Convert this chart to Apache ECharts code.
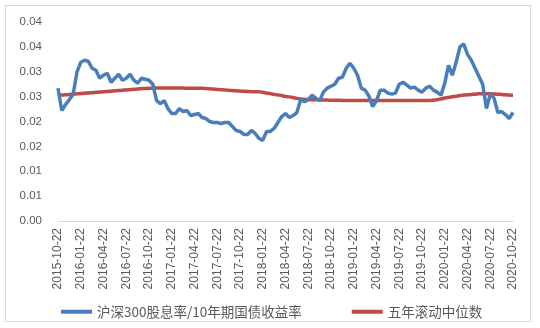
<!DOCTYPE html>
<html>
<head>
<meta charset="utf-8">
<script src="https://cdn.jsdelivr.net/npm/echarts@6/dist/echarts.min.js"></script>
<style>html,body{margin:0;padding:0;background:#fff;}#c{width:540px;height:328px;}</style>
</head>
<body>
<div id="c"></div>
<script>
var dates = [
'2015-10-22','2015-11-07','2015-11-22','2015-12-07','2015-12-22',
'2016-01-07','2016-01-22','2016-02-07','2016-02-22','2016-03-07','2016-03-22','2016-04-07','2016-04-22','2016-05-07','2016-05-22','2016-06-07','2016-06-22',
'2016-07-07','2016-07-22','2016-08-07','2016-08-22','2016-09-07','2016-09-22','2016-10-07','2016-10-22','2016-11-07','2016-11-22','2016-12-07','2016-12-22',
'2017-01-07','2017-01-22','2017-02-07','2017-02-22','2017-03-07','2017-03-22','2017-04-07','2017-04-22','2017-05-07','2017-05-22','2017-06-07','2017-06-22',
'2017-07-07','2017-07-22','2017-08-07','2017-08-22','2017-09-07','2017-09-22','2017-10-07','2017-10-22','2017-11-07','2017-11-22','2017-12-07','2017-12-22',
'2018-01-07','2018-01-22','2018-02-07','2018-02-22','2018-03-07','2018-03-22','2018-04-07','2018-04-22','2018-05-07','2018-05-22','2018-06-07','2018-06-22',
'2018-07-07','2018-07-22','2018-08-07','2018-08-22','2018-09-07','2018-09-22','2018-10-07','2018-10-22','2018-11-07','2018-11-22','2018-12-07','2018-12-22',
'2019-01-07','2019-01-22','2019-02-07','2019-02-22','2019-03-07','2019-03-22','2019-04-07','2019-04-22','2019-05-07','2019-05-22','2019-06-07','2019-06-22',
'2019-07-07','2019-07-22','2019-08-07','2019-08-22','2019-09-07','2019-09-22','2019-10-07','2019-10-22','2019-11-07','2019-11-22','2019-12-07','2019-12-22',
'2020-01-07','2020-01-22','2020-02-07','2020-02-22','2020-03-07','2020-03-22','2020-04-07','2020-04-22','2020-05-07','2020-05-22','2020-06-07','2020-06-22',
'2020-07-07','2020-07-22','2020-08-07','2020-08-22','2020-09-07','2020-09-22','2020-10-07','2020-10-22'
];

var yieldRatio = [
0.0267,0.0222,0.0234,0.0244,0.0255,0.0299,0.0319,0.0323,0.0321,0.0307,
0.0303,0.0287,0.0293,0.0297,0.0279,0.0287,0.0295,0.0283,0.0287,0.0295,
0.0283,0.0277,0.0287,0.0285,0.0283,0.0275,0.0242,0.0236,0.0242,0.0226,
0.0216,0.0216,0.0226,0.0220,0.0222,0.0212,0.0214,0.0216,0.0208,0.0206,
0.0200,0.0198,0.0198,0.0196,0.0198,0.0198,0.0190,0.0182,0.0180,0.0174,
0.0174,0.0182,0.0176,0.0166,0.0162,0.0180,0.0180,0.0186,0.0198,0.0210,
0.0216,0.0208,0.0212,0.0218,0.0244,0.0240,0.0244,0.0253,0.0247,0.0242,
0.0259,0.0267,0.0271,0.0275,0.0287,0.0289,0.0307,0.0317,0.0307,0.0293,
0.0267,0.0263,0.0251,0.0230,0.0242,0.0263,0.0263,0.0257,0.0255,0.0257,
0.0275,0.0279,0.0273,0.0267,0.0269,0.0263,0.0259,0.0267,0.0271,0.0263,
0.0259,0.0253,0.0277,0.0313,0.0293,0.0319,0.0350,0.0356,0.0335,0.0323,
0.0307,0.0291,0.0275,0.0226,0.0255,0.0247,0.0218,0.0220,0.0214,0.0206,
0.0218
];

var rollingMedian = [
0.02525,0.02531,0.02537,0.02543,0.02549,0.02556,0.02562,0.02568,0.02574,0.02580,
0.02586,0.02592,0.02598,0.02604,0.02610,0.02616,0.02622,0.02628,0.02634,0.02640,
0.02646,0.02653,0.02659,0.02665,0.02669,
0.02671,0.02673,0.02673,0.02673,0.02673,0.02673,0.02671,0.02671,0.02671,0.02669,0.02669,0.02667,0.02667,0.02667,
0.02663,0.02657,0.02651,0.02644,0.02638,0.02634,0.02628,0.02622,0.02616,0.02612,
0.02606,0.02602,0.02600,0.02598,0.02596,0.02586,0.02572,0.02560,0.02545,
0.02535,0.02521,0.02505,0.02495,0.02481,0.02465,0.02453,0.02444,
0.02440,0.02438,0.02436,0.02434,0.02432,0.02430,0.02428,0.02426,0.02426,0.02424,
0.02424,0.02422,0.02422,0.02422,0.02420,0.02420,0.02420,0.02420,0.02420,0.02420,
0.02420,0.02420,0.02420,0.02420,0.02420,0.02420,0.02420,0.02420,0.02422,0.02422,
0.02422,0.02424,0.02424,
0.02428,0.02438,0.02453,0.02471,0.02485,0.02497,0.02509,0.02521,0.02531,0.02537,0.02543,
0.02549,0.02556,0.02560,0.02560,0.02558,0.02554,0.02549,0.02543,0.02537,0.02531,0.02525
];

var yTickLabels = ['0.00','0.01','0.01','0.02','0.02','0.03','0.03','0.04','0.04'];
var seriesNames = ['沪深300股息率/10年期国债收益率', '五年滚动中位数'];

var chart = echarts.init(document.getElementById('c'), null, {renderer: 'canvas'});
chart.setOption({
  animation: false,
  backgroundColor: '#ffffff',
  graphic: [{
    type: 'rect',
    shape: {x: 5.5, y: 5.5, width: 525, height: 316},
    style: {fill: 'none', stroke: '#d9d9d9', lineWidth: 1},
    silent: true
  }],
  grid: {left: 58, right: 27, top: 22, bottom: 107, containLabel: false},
  legend: {
    left: 56, top: 300,
    icon: 'rect', itemWidth: 31, itemHeight: 4, itemGap: 50,
    textStyle: {fontSize: 13.5, color: '#595959', fontFamily: '"Noto Sans CJK SC", sans-serif'},
    data: seriesNames
  },
  xAxis: {
    type: 'category',
    data: dates,
    boundaryGap: false,
    axisLine: {show: true, lineStyle: {color: '#d9d9d9', width: 1}},
    axisTick: {show: false},
    splitLine: {show: false},
    axisLabel: {
      interval: 5, rotate: 90, margin: 7,
      fontSize: 12, color: '#595959', fontFamily: '"Liberation Sans", Arial, sans-serif',
      hideOverlap: false
    }
  },
  yAxis: {
    type: 'value', min: 0, max: 0.04, interval: 0.005,
    axisLine: {show: false}, axisTick: {show: false},
    splitLine: {show: false},
    axisLabel: {
      margin: 16, fontSize: 11.5, color: '#595959', fontFamily: '"Liberation Sans", Arial, sans-serif',
      formatter: function (v) { return yTickLabels[Math.round(v / 0.005)]; }
    }
  },
  series: [
    {
      name: seriesNames[0], type: 'line', data: yieldRatio, symbol: 'none',
      lineStyle: {color: '#4a7ebb', width: 3.5}, itemStyle: {color: '#4a7ebb'}, z: 3
    },
    {
      name: seriesNames[1], type: 'line', data: rollingMedian, symbol: 'none', smooth: true,
      lineStyle: {color: '#be4b48', width: 3.5}, itemStyle: {color: '#be4b48'}, z: 2
    }
  ]
});
</script>
</body>
</html>
